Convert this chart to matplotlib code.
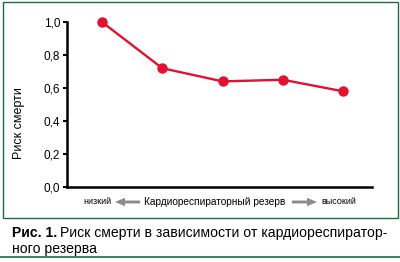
import matplotlib
matplotlib.use('Agg')
import matplotlib.pyplot as plt
from matplotlib.patches import Rectangle, FancyArrow
from matplotlib.lines import Line2D

# данные
levels = [1, 2, 3, 4, 5]
risk = [1.0, 0.72, 0.64, 0.65, 0.58]
yticks = [0.0, 0.2, 0.4, 0.6, 0.8, 1.0]
ytick_labels = ['0,0', '0,2', '0,4', '0,6', '0,8', '1,0']

plt.rcParams['font.family'] = ['Liberation Sans', 'DejaVu Sans']

W, H = 400, 262
fig = plt.figure(figsize=(4.0, 2.62), dpi=100)

def fx(px):
    return px / W

def fy(py):
    return 1 - py / H

green = '#1b6b45'
red = '#e3102f'
grey = '#8a8a8a'

# рамка
fig.patches.append(Rectangle((fx(3), fy(218)), fx(395), 216 / H, transform=fig.transFigure,
                             fill=False, edgecolor=green, linewidth=1.0))
fig.lines.append(Line2D([0, 1], [fy(257), fy(257)], transform=fig.transFigure,
                        color=green, linewidth=1.2))

ax = fig.add_axes([fx(67), fy(187), fx(372 - 67), (187 - 22) / H])
ax.plot(levels, risk, color=red, linewidth=1.7, marker='o', markersize=6.5, clip_on=False)
ax.set_xlim(0.42, 5.48)
ax.set_ylim(0, 1.0)
ax.set_yticks(yticks)
ax.set_yticklabels(ytick_labels, fontsize=8.5)
ax.set_xticks([])
for s in ['top', 'right']:
    ax.spines[s].set_visible(False)
for s in ['left', 'bottom']:
    ax.spines[s].set_linewidth(1.8)
    ax.spines[s].set_color('black')
ax.tick_params(axis='y', length=3, width=1.5, pad=2)
ax.set_ylabel('Риск смерти', fontsize=9)
ax.yaxis.set_label_coords(-0.138, 0.39)

# подпись оси X
ty = fy(202)
fig.text(fx(111), ty, 'низкий', fontsize=6.5, ha='right', va='center')
fig.text(fx(215), ty, 'Кардиореспираторный резерв', fontsize=7.3, ha='center', va='center')
fig.text(fx(321), ty, 'высокий', fontsize=6.5, ha='left', va='center')
fig.patches.append(FancyArrow(fx(140), ty, fx(-25), 0, width=0.011,
                   head_width=0.032, head_length=0.025, color=grey, transform=fig.transFigure,
                   length_includes_head=True, linewidth=0))
fig.patches.append(FancyArrow(fx(292), ty, fx(25), 0, width=0.011,
                   head_width=0.032, head_length=0.025, color=grey, transform=fig.transFigure,
                   length_includes_head=True, linewidth=0))

# подпись рисунка
bold = fig.text(fx(12), fy(233), 'Рис. 1.', fontsize=10.1, fontweight='bold',
                ha='left', va='center')
fig.canvas.draw()
bb = bold.get_window_extent(renderer=fig.canvas.get_renderer())
x_rest = bb.x1 / fig.dpi / fig.get_figwidth() + fx(3)
fig.text(x_rest, fy(233), 'Риск смерти в зависимости от кардиореспиратор-', fontsize=10.1,
         ha='left', va='center')
fig.text(fx(12), fy(249), 'ного резерва', fontsize=10.1, ha='left', va='center')

fig.savefig('out.png', dpi=100)
